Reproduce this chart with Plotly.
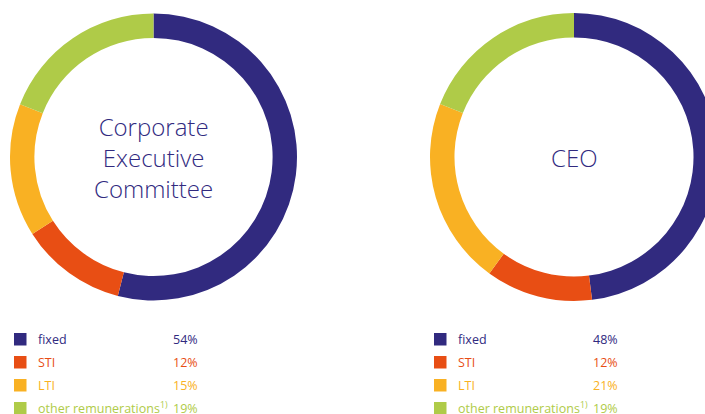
import plotly.graph_objects as go

categories = ["fixed", "STI", "LTI", "other remunerations<sup>1)</sup>"]
cec_values = [54, 12, 15, 19]
ceo_values = [48, 12, 21, 19]
colors = ["#312A7F", "#E84E14", "#F9B123", "#AFCB48"]
titles = ["Corporate<br>Executive<br>Committee", "CEO"]

W, H = 720, 414
fig = go.Figure()

def px_x(x):
    return x / W

def px_y(y):
    return 1 - y / H

panels = [
    dict(values=cec_values, cx=153.5, cy=157, r=143.5, lx=14, tx=36, px=200),
    dict(values=ceo_values, cx=574, cy=157, r=144, lx=434, tx=456, px=620),
]

for i, p in enumerate(panels):
    fig.add_trace(go.Pie(
        values=p["values"], labels=categories, sort=False, direction="clockwise",
        rotation=0, hole=0.83, textinfo="none", hoverinfo="label+percent",
        marker=dict(colors=colors, line=dict(width=0)), showlegend=False,
        domain=dict(x=[px_x(p["cx"] - p["r"]), px_x(p["cx"] + p["r"])],
                    y=[px_y(p["cy"] + p["r"]), px_y(p["cy"] - p["r"])]),
    ))
    fig.add_annotation(x=px_x(p["cx"]), y=px_y(p["cy"]), xref="paper", yref="paper",
                       text=titles[i], showarrow=False, xanchor="center", yanchor="middle",
                       font=dict(family="Open Sans", size=24, color="#312A7F", weight=300))
    for j, (cat, val, col) in enumerate(zip(categories, p["values"], colors)):
        yc = 339 + 23 * j
        fig.add_shape(type="rect", xref="paper", yref="paper",
                      x0=px_x(p["lx"]), x1=px_x(p["lx"] + 12.5),
                      y0=px_y(yc + 6.5), y1=px_y(yc - 6),
                      fillcolor=col, line=dict(width=0))
        fig.add_annotation(x=px_x(p["tx"]), y=px_y(yc), xref="paper", yref="paper",
                           text=cat, showarrow=False, xanchor="left", yanchor="middle",
                           font=dict(family="Open Sans", size=12.5, color=col, weight=400))
        fig.add_annotation(x=px_x(p["px"]), y=px_y(yc), xref="paper", yref="paper",
                           text=f"{val}%", showarrow=False, xanchor="right", yanchor="middle",
                           font=dict(family="Open Sans", size=12.5, color=col, weight=400))

fig.update_layout(width=W, height=H, margin=dict(l=0, r=0, t=0, b=0),
                  paper_bgcolor="white", plot_bgcolor="white")

fig.write_html("out.html", config={"displayModeBar": False},
               post_script="document.body.style.margin='0';document.body.style.overflow='hidden';document.documentElement.style.overflow='hidden';")
